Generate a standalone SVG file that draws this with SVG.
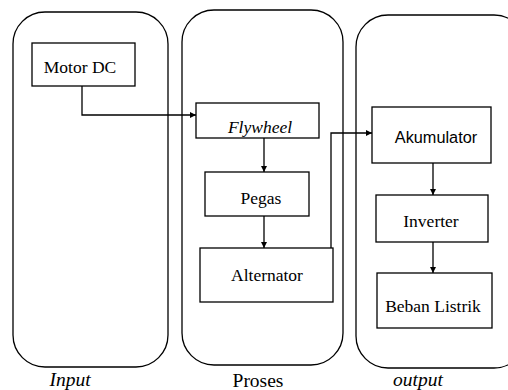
<svg xmlns="http://www.w3.org/2000/svg" width="508" height="390" viewBox="0 0 508 390">
<defs>
<marker id="ah" viewBox="0 0 10 10" refX="10" refY="5" markerWidth="6" markerHeight="6" markerUnits="userSpaceOnUse" orient="auto">
<path d="M0,0 L10,5 L0,10 z" fill="#000"/>
</marker>
<style>
.cont{fill:none;stroke:#000;stroke-width:1.3}
.box{fill:#fff;stroke:#000;stroke-width:1.3}
.t{font-family:"Liberation Serif","Times New Roman",serif;font-size:17.5px;fill:#000;text-anchor:middle}
.s{font-family:"Liberation Sans",Arial,sans-serif;font-size:16.3px;fill:#000;text-anchor:middle}
.lab{font-family:"Liberation Serif","Times New Roman",serif;font-size:19.5px;fill:#000;text-anchor:middle}
.i{font-style:italic}
.c{fill:none;stroke:#000;stroke-width:1.3}
</style>
</defs>
<rect width="508" height="390" fill="#fff"/>
<g id="containers">
<rect id="input-zone" class="cont" x="13" y="12" width="155" height="355" rx="32" ry="32"/>
<rect id="proses-zone" class="cont" x="182" y="10" width="161" height="355" rx="32" ry="32"/>
<rect id="output-zone" class="cont" x="356" y="15" width="170" height="353" rx="32" ry="32"/>
</g>
<g id="connectors">
<polyline class="c" points="82,86 82,115 196,115" marker-end="url(#ah)"/>
<line class="c" x1="264" y1="138" x2="264" y2="172" marker-end="url(#ah)"/>
<line class="c" x1="264" y1="216" x2="264" y2="248" marker-end="url(#ah)"/>
<polyline class="c" points="331,248 331,133 372,133" marker-end="url(#ah)"/>
<line class="c" x1="433" y1="163" x2="433" y2="195" marker-end="url(#ah)"/>
<line class="c" x1="433" y1="242" x2="433" y2="273" marker-end="url(#ah)"/>
</g>
<g id="motor-dc"><rect class="box" x="32" y="43" width="103" height="43"/><text class="t" x="80" y="73">Motor DC</text></g>
<g id="flywheel"><rect class="box" x="196" y="103" width="123" height="35"/><text class="t i" x="260" y="133">Flywheel</text></g>
<g id="pegas"><rect class="box" x="205" y="172" width="104" height="44"/><text class="t" x="261" y="204">Pegas</text></g>
<g id="alternator"><rect class="box" x="200" y="248" width="133" height="54"/><text class="t" x="267" y="281">Alternator</text></g>
<g id="akumulator"><rect class="box" x="372" y="107" width="119" height="56"/><text class="s" x="436" y="143">Akumulator</text></g>
<g id="inverter"><rect class="box" x="376" y="195" width="112" height="47"/><text class="t" x="431" y="227">Inverter</text></g>
<g id="beban-listrik"><rect class="box" x="377" y="273" width="115" height="55"/><text class="t" x="433" y="312">Beban Listrik</text></g>
<g id="labels">
<text class="lab i" x="70" y="386">Input</text>
<text class="lab" x="258" y="387">Proses</text>
<text class="lab i" x="418" y="386">output</text>
</g>
</svg>
